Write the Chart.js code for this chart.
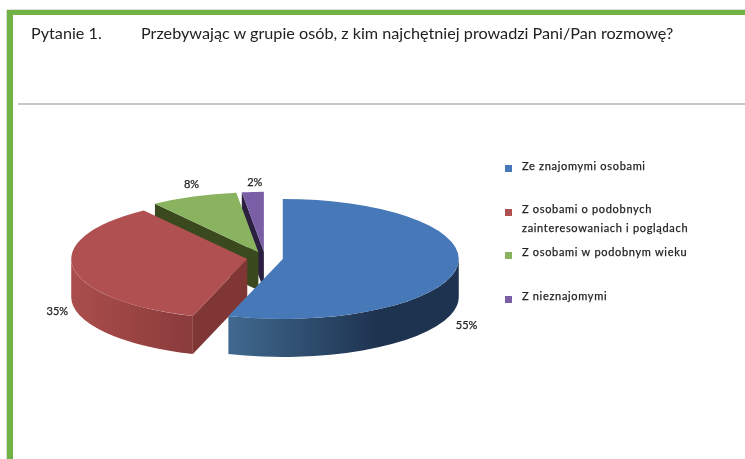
<!DOCTYPE html>
<html>
<head>
<meta charset="utf-8">
<script src="https://cdn.jsdelivr.net/npm/chart.js@4"></script>
<style>
html, body { margin: 0; padding: 0; background: #fff; }
#page { position: relative; width: 745px; height: 459px; overflow: hidden; font-family: Lato, sans-serif; color: #222; }
#frame-top { position: absolute; left: 7px; top: 10px; width: 738px; height: 5px; background: #70b244; box-shadow: 0 -1px 0 #ddd; }
#frame-left { position: absolute; left: 7px; top: 10px; width: 6px; height: 449px; background: #70b244; box-shadow: -1px 0 0 #ddd; }
#rule { position: absolute; left: 18px; top: 103px; width: 727px; height: 2px; background: #c8c8c8; }
.title { position: absolute; top: 23px; font-size: 16.2px; line-height: 20px; white-space: nowrap; filter: blur(0.3px); }
#chart { position: absolute; left: 0; top: 0; filter: blur(0.4px); }
</style>
</head>
<body>
<div id="page">
  <canvas id="chart" width="745" height="459"></canvas>
  <div id="frame-top"></div>
  <div id="frame-left"></div>
  <div id="rule"></div>
  <div class="title" style="left:31px">Pytanie 1.</div>
  <div class="title" style="left:141px">Przebywając w grupie osób, z kim najchętniej prowadzi Pani/Pan rozmowę?</div>
</div>
<script>
// Dane wykresu
const categories = [
    'Ze znajomymi osobami',
    ['Z osobami o podobnych', 'zainteresowaniach i poglądach'],
    'Z osobami w podobnym wieku',
    'Z nieznajomymi'
];
const values = [55, 35, 8, 2];

// Kolory
const topColors = ['#4779b8', '#b05050', '#8ab360', '#7a5fa6'];
const wallColors = [
    ['#40698f', '#1e3350'],
    ['#aa4e4c', '#8a3b3b'],
    ['#4a5f26', '#3a4a1e'],
    ['#352650', '#2c2040']
];
const faceColors = ['#1e3350', '#7f3635', '#3a4a1e', '#2c2040'];

// Geometria pseudo-3D
const squash = 0.341;
const depth = 38;
const explode = 18;

// Przesuniecia etykiet wzgledem srodka luku
const labelShift = [[10, 57], [-16, 43], [-2, -12], [2, -10]];

// Legenda
const legendMarkerY = [168, 212, 255, 299];
const legendTextY = [[166], [209, 228], [252], [296]];

function drawSlice(ctx, arc, i) {
    const mid = (arc.startAngle + arc.endAngle) / 2;
    const cx = arc.x + Math.cos(mid) * explode;
    const cy = arc.y + Math.sin(mid) * explode * squash;
    const R = arc.outerRadius;
    const ry = R * squash;

    // scianka radialna
    const a = arc.startAngle;
    if (Math.cos(a) < -0.001) {
        const rimX = cx + Math.cos(a) * R;
        const rimY = cy + Math.sin(a) * ry;
        ctx.fillStyle = faceColors[i];
        ctx.beginPath();
        ctx.moveTo(cx, cy);
        ctx.lineTo(rimX, rimY);
        ctx.lineTo(rimX, rimY + depth);
        ctx.lineTo(cx, cy + depth);
        ctx.closePath();
        ctx.fill();
    }

    // scianka zewnetrzna (tylko przednia polowa)
    const from = Math.max(arc.startAngle, 0);
    const to = Math.min(arc.endAngle, Math.PI);
    if (to > from) {
        const x0 = cx + Math.cos(to) * R;
        const x1 = cx + Math.cos(from) * R;
        const grad = ctx.createLinearGradient(x0, 0, x1, 0);
        grad.addColorStop(0, wallColors[i][0]);
        grad.addColorStop(i === 0 ? 0.65 : 1, wallColors[i][1]);
        grad.addColorStop(1, wallColors[i][1]);
        ctx.fillStyle = grad;
        ctx.beginPath();
        ctx.ellipse(cx, cy, R, ry, 0, from, to);
        ctx.lineTo(cx + Math.cos(to) * R, cy + Math.sin(to) * ry + depth);
        ctx.ellipse(cx, cy + depth, R, ry, 0, to, from, true);
        ctx.closePath();
        ctx.fill();
    }

    // wierzch - rysuje go sam element Chart.js, sciesniony w pionie
    ctx.save();
    ctx.translate(cx, cy);
    ctx.scale(1, squash);
    ctx.translate(-arc.x, -arc.y);
    arc.draw(ctx);
    ctx.restore();
}

// tekst z cienkim obrysem, zeby byl troche grubszy
function boldText(ctx, text, x, y) {
    ctx.strokeText(text, x, y);
    ctx.fillText(text, x, y);
}

const pie3d = {
    id: 'pie3d',
    beforeDatasetsDraw(chart) {
        const ctx = chart.ctx;
        const arcs = chart.getDatasetMeta(0).data;
        for (let i = arcs.length - 1; i >= 0; i--) {
            drawSlice(ctx, arcs[i], i);
        }

        // etykiety wartosci
        ctx.save();
        ctx.fillStyle = '#222';
        ctx.strokeStyle = '#222';
        ctx.lineWidth = 0.25;
        ctx.font = '11px Lato, sans-serif';
        ctx.textAlign = 'center';
        ctx.textBaseline = 'middle';
        arcs.forEach((arc, i) => {
            const mid = (arc.startAngle + arc.endAngle) / 2;
            const cx = arc.x + Math.cos(mid) * explode;
            const cy = arc.y + Math.sin(mid) * explode * squash;
            const x = cx + Math.cos(mid) * arc.outerRadius + labelShift[i][0];
            const y = cy + Math.sin(mid) * arc.outerRadius * squash + labelShift[i][1];
            boldText(ctx, values[i] + '%', x, y);
        });
        ctx.restore();

        // legenda
        ctx.save();
        ctx.strokeStyle = '#222';
        ctx.lineWidth = 0.25;
        ctx.font = '11px Lato, sans-serif';
        ctx.letterSpacing = '0.68px';
        ctx.textBaseline = 'middle';
        categories.forEach((cat, i) => {
            ctx.fillStyle = topColors[i];
            ctx.fillRect(505, legendMarkerY[i] - 3, 7, 7);
            ctx.fillStyle = '#222';
            const lines = Array.isArray(cat) ? cat : [cat];
            lines.forEach((line, n) => boldText(ctx, line, 522, legendTextY[i][n]));
        });
        ctx.restore();
        return false;
    }
};

new Chart(document.getElementById('chart'), {
    type: 'pie',
    data: {
        labels: categories,
        datasets: [{
            data: values,
            backgroundColor: topColors,
            borderWidth: 0
        }]
    },
    options: {
        responsive: false,
        animation: false,
        radius: 176,
        layout: { padding: { top: 57, right: 215 } },
        plugins: {
            legend: { display: false },
            tooltip: { enabled: false }
        }
    },
    plugins: [pie3d]
});
</script>
</body>
</html>
